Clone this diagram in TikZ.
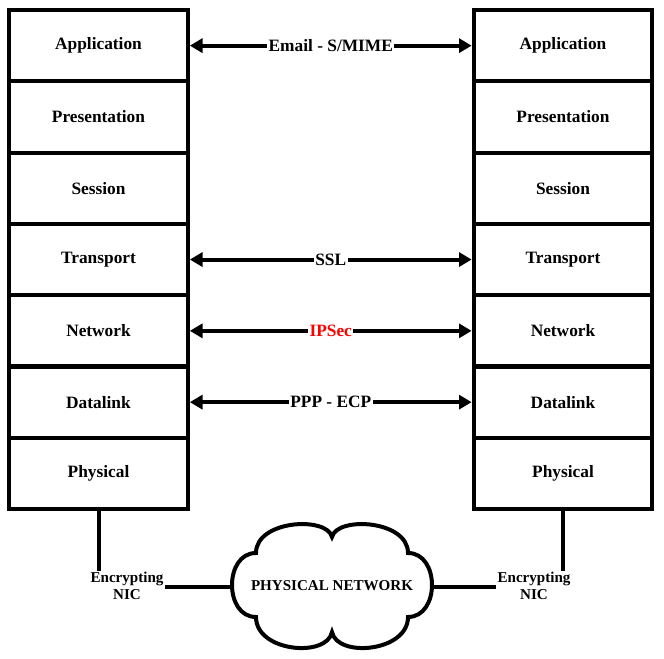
\documentclass[tikz,border=0pt]{standalone}
\usepackage{fontspec}
\setmainfont{Liberation Serif}
\usetikzlibrary{arrows.meta}
\begin{document}
\begin{tikzpicture}[x=0.75pt,y=-0.75pt,
  layer/.style={draw,line width=3pt,minimum width=134pt,minimum height=53.5pt,inner sep=0pt,font=\fontsize{13}{15}\selectfont\bfseries},
  proto/.style={line width=3pt,{Triangle[length=9.5pt,width=10.5pt]}-{Triangle[length=9.5pt,width=10.5pt]}},
  plabel/.style={fill=white,inner sep=1pt,font=\fontsize{13}{15}\selectfont\bfseries},
  wire/.style={line width=3pt},
  cloudline/.style={line width=3pt,line join=miter},
  nic/.style={align=center,inner sep=1pt,font=\fontsize{11.3}{12.5}\selectfont\bfseries}]
\useasboundingbox (0,0) rectangle (664,659);
\foreach \nm/\t [count=\i] in {app/Application,pres/Presentation,sess/Session,trans/Transport,net/Network,dl/Datalink,phys/Physical}{
  \node[layer] (L\nm) at (98.5,{10+71.3*(\i-0.5)}) {\t};
  \node[layer] (R\nm) at (563,{10+71.3*(\i-0.5)}) {\t};
}
\draw[proto] (Lapp.east) -- node[plabel]{Email - S/MIME} (Rapp.west);
\draw[proto] (Ltrans.east) -- node[plabel]{SSL} (Rtrans.west);
\draw[proto] (Lnet.east) -- node[plabel,text=red]{IPSec} (Rnet.west);
\draw[proto] (Ldl.east) -- node[plabel]{PPP - ECP} (Rdl.west);
\begin{scope}[shift={(332,586)},yscale=-1]
  \draw[cloudline] (-76,33) .. controls (-76,66) and (-5,70) .. (0,49)
    .. controls (5,70) and (76,66) .. (76,33)
    .. controls (108,33) and (108,-31) .. (76,-31)
    .. controls (76,-66) and (5,-72) .. (0,-46)
    .. controls (-5,-72) and (-76,-66) .. (-76,-31)
    .. controls (-108,-31) and (-108,33) .. (-76,33) -- cycle;
  \coordinate (cloudW) at (-100,-1);
  \coordinate (cloudE) at (100,-1);
  \node[font=\fontsize{11.3}{13}\selectfont\bfseries] (cloudtext) at (0,0) {PHYSICAL NETWORK};
\end{scope}
\node[nic] (lnic) at (127,586) {Encrypting\\NIC};
\node[nic] (rnic) at (534,586) {Encrypting\\NIC};
\draw[wire] (Lphys.south) -- (Lphys.south |- lnic.north);
\draw[wire] (Rphys.south) -- (Rphys.south |- rnic.north);
\draw[wire] (lnic.east |- cloudW) -- (cloudW);
\draw[wire] (rnic.west |- cloudE) -- (cloudE);
\end{tikzpicture}
\end{document}
